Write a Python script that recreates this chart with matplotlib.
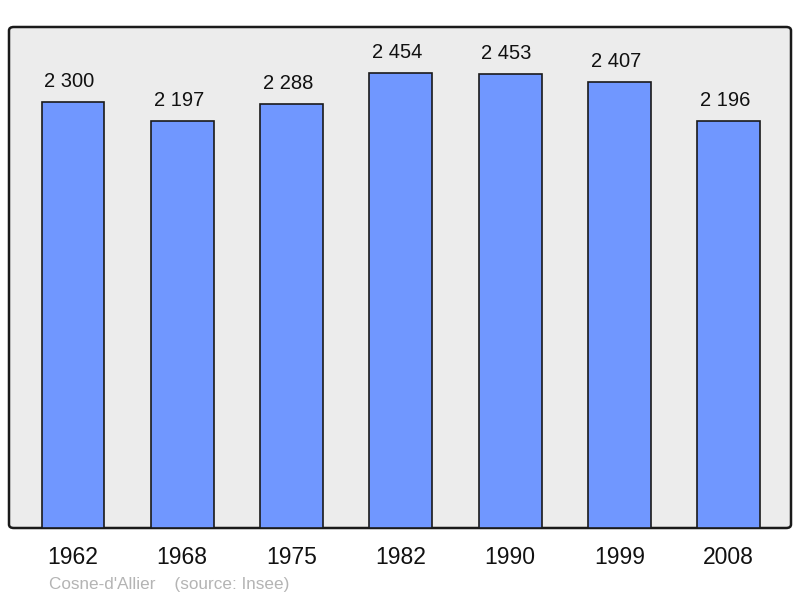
import matplotlib
matplotlib.use("Agg")
import matplotlib.pyplot as plt
from matplotlib.patches import FancyBboxPatch

years = ["1962", "1968", "1975", "1982", "1990", "1999", "2008"]
population = [2300, 2197, 2288, 2454, 2453, 2407, 2196]
value_labels = ["2 300", "2 197", "2 288", "2 454", "2 453", "2 407", "2 196"]

plt.rcParams['font.family'] = ['Liberation Sans', 'DejaVu Sans']

W, H = 800, 598
fig = plt.figure(figsize=(W / 100, H / 100), dpi=100)
ax = fig.add_axes([9 / W, 1 - 528 / H, (791 - 9) / W, (528 - 27) / H])
ax.set_facecolor('none')
ax.set_zorder(2)

# rounded background box
bg = FancyBboxPatch((9 / W, 1 - 528 / H), (791 - 9) / W, (528 - 27) / H,
                    boxstyle="round,pad=0,rounding_size=0.006",
                    transform=fig.transFigure, facecolor='#ececec',
                    edgecolor='#1a1a1a', linewidth=1.8, zorder=0)
fig.patches.append(bg)

x = list(range(len(years)))
ax.bar(x, population, width=0.575, color='#7097ff', edgecolor='#1a1a1a',
       linewidth=1.2, zorder=2)
for xi, v, lab in zip(x, population, value_labels):
    ax.annotate(lab, (xi, v), xytext=(-2.5, 8), textcoords='offset points',
                ha='center', va='bottom', fontsize=14.5, color='#111111')

ax.set_xlim(-0.585, 6.57)
ax.set_ylim(0, 2705)
for s in ax.spines.values():
    s.set_visible(False)
ax.set_yticks([])
ax.set_xticks(x)
ax.set_xticklabels(years, fontsize=16.5, color='#111111')
ax.tick_params(axis='x', length=0, pad=13)

fig.text(49 / W, 1 - 584 / H, "Cosne-d'Allier    (source: Insee)", fontsize=12.3,
         color='#b4b4b4', ha='left', va='center')

fig.savefig("out.png", dpi=100)
